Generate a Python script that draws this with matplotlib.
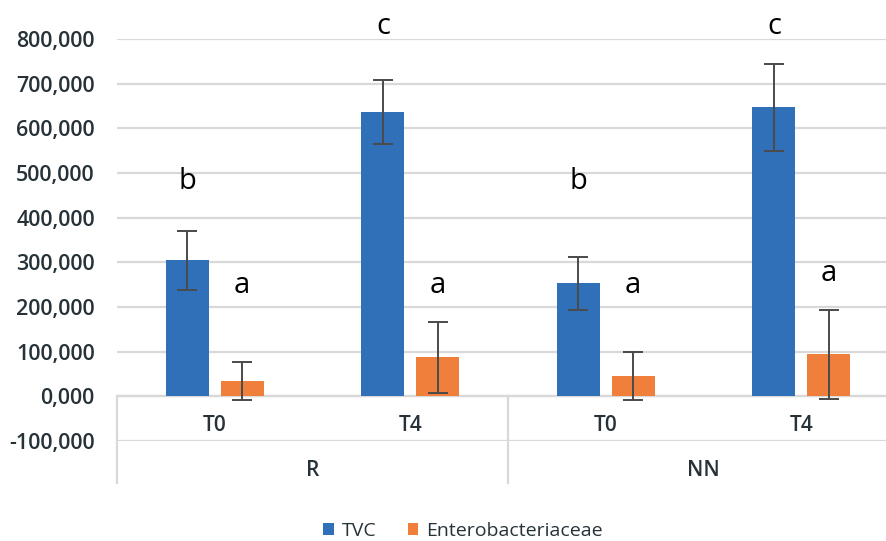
import numpy as np
import matplotlib
matplotlib.use("Agg")
import matplotlib.pyplot as plt

# values
groups = ["R", "NN"]
times = ["T0", "T4", "T0", "T4"]
tvc = [305000, 637000, 253000, 647000]
tvc_err = [66000, 72000, 60000, 98000]
entero = [34000, 87000, 46000, 94000]
entero_err = [42000, 80000, 54000, 100000]
tvc_letters = ["b", "c", "b", "c"]
entero_letters = ["a", "a", "a", "a"]
# heights where the letters sit
tvc_letter_y = [480000, 828000, 480000, 828000]
entero_letter_y = [249000, 249000, 249000, 276000]

blue = "#3070B9"
orange = "#F07F3C"
txt = "#263238"
grid = "#D9D9D9"

plt.rcParams["font.family"] = ["Open Sans", "DejaVu Sans"]

fig = plt.figure(figsize=(8.86, 5.41), dpi=100)
ax = fig.add_axes([117 / 886, 1 - 441 / 541, (899 - 117) / 886, (441 - 39) / 541])

x = np.arange(len(times))
w = 0.22
off = 0.14

ax.bar(x - off, tvc, w, color=blue, label="TVC", zorder=3)
ax.bar(x + off, entero, w, color=orange, label="Enterobacteriaceae", zorder=3)
ekw = dict(fmt="none", ecolor="#4A4A4A", elinewidth=1.4, capsize=7, capthick=1.4, zorder=4)
ax.errorbar(x - off, tvc, yerr=tvc_err, **ekw)
ax.errorbar(x + off, entero, yerr=entero_err, **ekw)

for i in range(len(times)):
    ax.text(x[i] - off, tvc_letter_y[i], tvc_letters[i], ha="center", va="center",
            fontsize=21, color="black", clip_on=False)
    ax.text(x[i] + off, entero_letter_y[i], entero_letters[i], ha="center", va="center",
            fontsize=21, color="black", clip_on=False)

ax.set_xlim(-0.5, 3.5)
ax.set_ylim(-100000, 800000)
ticks = np.arange(-100000, 800001, 100000)
ax.set_yticks(ticks)
ax.set_yticklabels([f"{t / 1000:.3f}".replace(".", ",") for t in ticks],
                   fontsize=15.5, color=txt, fontweight="semibold")
ax.set_xticks([])
ax.tick_params(axis="y", length=0, pad=16)
for s in ax.spines.values():
    s.set_visible(False)
ax.yaxis.grid(True, color=grid, linewidth=1.6, zorder=0)
ax.set_axisbelow(True)
ax.axhline(0, color=grid, linewidth=1.6, zorder=1)

# multi-level category axis
for xs in [-0.5, 1.5, 3.5]:
    ax.plot([xs, xs], [0, -194000], color=grid, linewidth=1.6, clip_on=False, zorder=1)
for i, t in enumerate(times):
    ax.text(x[i], -65000, t, ha="center", va="center", fontsize=15, color=txt,
            fontweight="semibold", clip_on=False)
for j, g in enumerate(groups):
    ax.text(2 * j + 0.5, -166000, g, ha="center", va="center", fontsize=15, color=txt,
            fontweight="semibold", clip_on=False)

fig.legend(loc="center", bbox_to_anchor=(463 / 886, 1 - 531 / 541), ncol=2, frameon=False,
           fontsize=14, handlelength=0.55, handleheight=0.55, handletextpad=0.4,
           columnspacing=1.6, labelcolor=txt)

fig.savefig("out.png", dpi=100)
